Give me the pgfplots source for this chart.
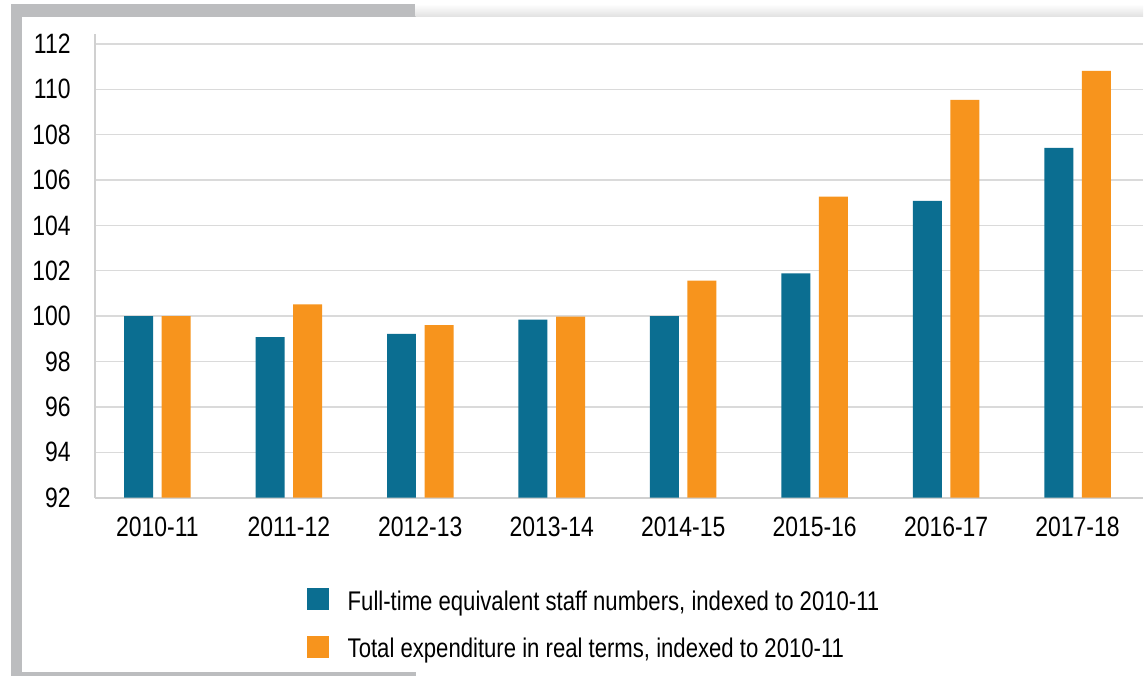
\documentclass[border=0pt]{standalone}
\usepackage{pgfplots}
\pgfplotsset{compat=1.18}
\usepackage{fontspec}
\setmainfont{Liberation Sans}[FakeStretch=0.82]
\definecolor{barblue}{HTML}{0B6E91}
\definecolor{barorange}{HTML}{F7941D}
\definecolor{framegray}{HTML}{BCBDBF}
\definecolor{gridgray}{HTML}{DADADA}
\definecolor{axisgray}{HTML}{D0D0D0}
\begin{document}
\begin{tikzpicture}
\fill[white] (0,0) rectangle (572pt,338.5pt);
\fill[framegray] (5.5pt,0) rectangle (208pt,336.5pt);
\shade[top color=white,bottom color=black!12] (208pt,330pt) rectangle (572pt,336.5pt);
\fill[white] (11pt,2pt) rectangle (572pt,330pt);
\begin{axis}[
 at={(47.5pt,89.5pt)}, anchor=south west, scale only axis,
 width=524.5pt, height=232pt,
 xmin=-0.475, xmax=7.498, ymin=92, ymax=112.44,
 axis x line*=bottom, axis y line*=left,
 axis line style={draw=axisgray, line width=1pt, -},
 ymajorgrids, grid style={gridgray, line width=0.7pt},
 major tick length=0pt,
 ytick={92,94,...,112},
 xtick={0,...,7},
 xticklabels={2010-11,2011-12,2012-13,2013-14,2014-15,2015-16,2016-17,2017-18},
 tick label style={font=\fontsize{14}{16}\selectfont},
 /pgf/number format/assume math mode=true,
 yticklabel style={anchor=east, inner sep=0pt, xshift=-12pt},
 xticklabel style={anchor=north, inner sep=0pt, yshift=-9.5pt},
 ybar, bar width=14.5pt,
 legend cell align=left,
 legend style={draw=none, fill=none, at={(axis description cs:0.2021,-0.196)}, anchor=north west,
   inner sep=0pt, outer sep=0pt, column sep=9.5pt, row sep=9.75pt,
   nodes={inner sep=0pt, text height=10pt, text depth=3pt, font=\fontsize{13.5}{16}\selectfont}},
 legend image code/.code={\fill[#1] (0pt,-3.5pt) rectangle (11pt,7.5pt);},
]
\addplot[fill=barblue, draw=none, bar shift=-9.4pt] coordinates {(0,100) (1,99.08) (2,99.22) (3,99.85) (4,100) (5,101.88) (6,105.08) (7,107.42)};
\addplot[fill=barorange, draw=none, bar shift=9.4pt] coordinates {(0,100) (1,100.52) (2,99.6) (3,99.98) (4,101.57) (5,105.27) (6,109.53) (7,110.81)};
\legend{{Full-time equivalent staff numbers, indexed to 2010-11}, {Total expenditure in real terms, indexed to 2010-11}}
\end{axis}
\end{tikzpicture}
\end{document}
